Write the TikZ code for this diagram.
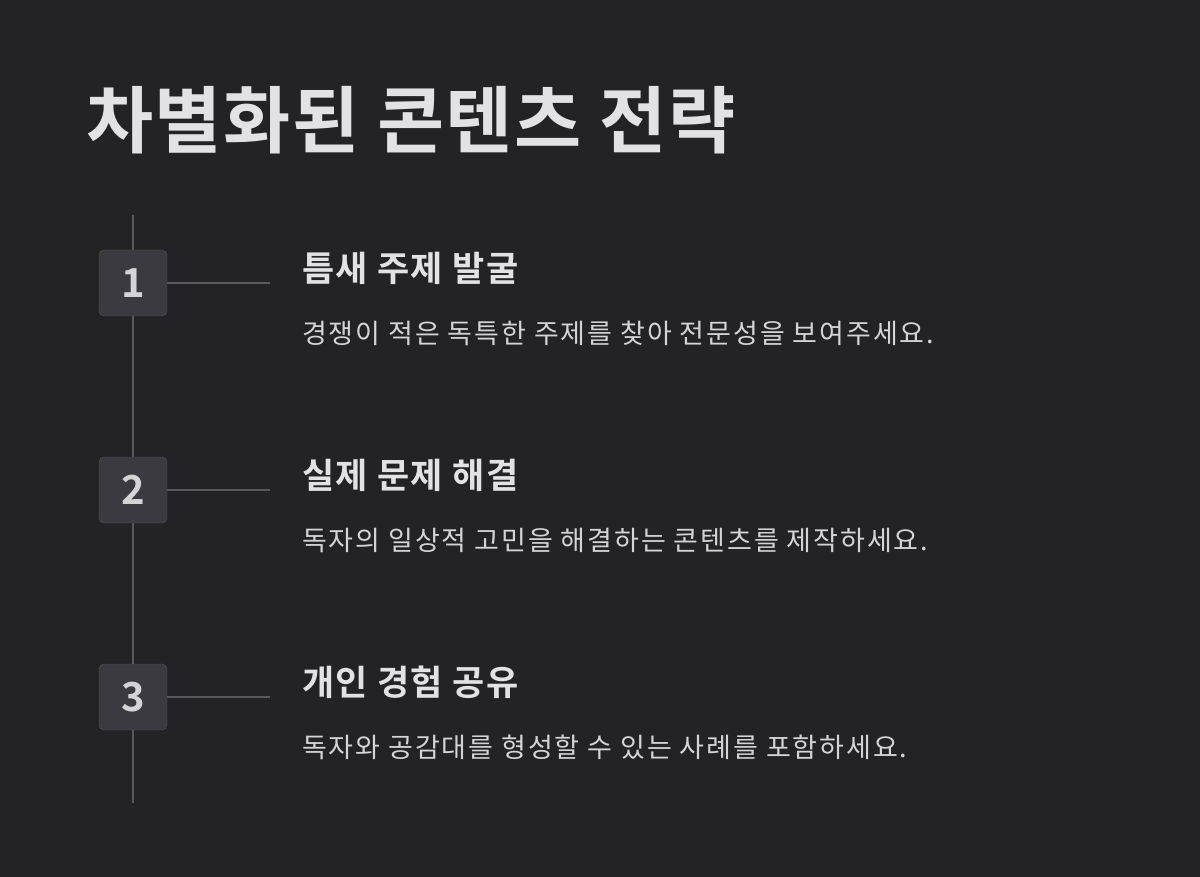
\documentclass[tikz,border=0pt]{standalone}
\usepackage{fontspec}
\newfontfamily\kr{Noto Sans CJK KR}[LetterSpace=7]
\newfontfamily\krb{Noto Sans CJK KR Bold}
\newfontfamily\krbs{Noto Sans CJK KR Bold}[LetterSpace=2]
\newfontfamily\krbh{Noto Sans CJK KR Bold}[LetterSpace=4]
\definecolor{bg}{HTML}{232325}
\definecolor{ln}{HTML}{5A5A5E}
\definecolor{bx}{HTML}{3A3A40}
\definecolor{bxd}{HTML}{55555C}
\definecolor{tx}{HTML}{E2E2E4}
\definecolor{dx}{HTML}{D4D4D6}
\tikzset{
 numbox/.style={draw=bxd,fill=bx,rounded corners=5pt,minimum width=68pt,minimum height=66pt,inner sep=0pt,text=dx,font=\krb\fontsize{40}{44}\selectfont},
 head/.style={anchor=west,inner sep=0pt,text=tx,font=\krbh\fontsize{35}{40}\selectfont},
 desc/.style={anchor=west,inner sep=0pt,text=dx,font=\kr\fontsize{27}{32}\selectfont},
 conn/.style={draw=ln,line width=2.5pt}
}
\begin{document}
\begin{tikzpicture}[x=1pt,y=-1pt]
\fill[bg] (0,0) rectangle (1200,877);
\useasboundingbox (0,0) rectangle (1200,877);
\node[anchor=west,inner sep=0pt,text=tx,font=\krbs\fontsize{73}{80}\selectfont] (title) at (86,120) {차별화된 콘텐츠 전략};
\coordinate (top) at (133,215);
\coordinate (bot) at (133,803);
\draw[conn] (top) -- (bot);
\foreach \n/\y/\h/\d in {1/283/틈새 주제 발굴/경쟁이 적은 독특한 주제를 찾아 전문성을 보여주세요.,
 2/490/실제 문제 해결/독자의 일상적 고민을 해결하는 콘텐츠를 제작하세요.,
 3/697/개인 경험 공유/독자와 공감대를 형성할 수 있는 사례를 포함하세요.}{
 \node[numbox] (b\n) at (133,\y) {\n};
 \coordinate (e\n) at (270,\y);
 \draw[conn] (b\n.east) -- (e\n);
 \node[head] (h\n) at (302,\y-15) {\h};
 \node[desc] (d\n) at (302,\y+50) {\d};
}
\end{tikzpicture}
\end{document}
